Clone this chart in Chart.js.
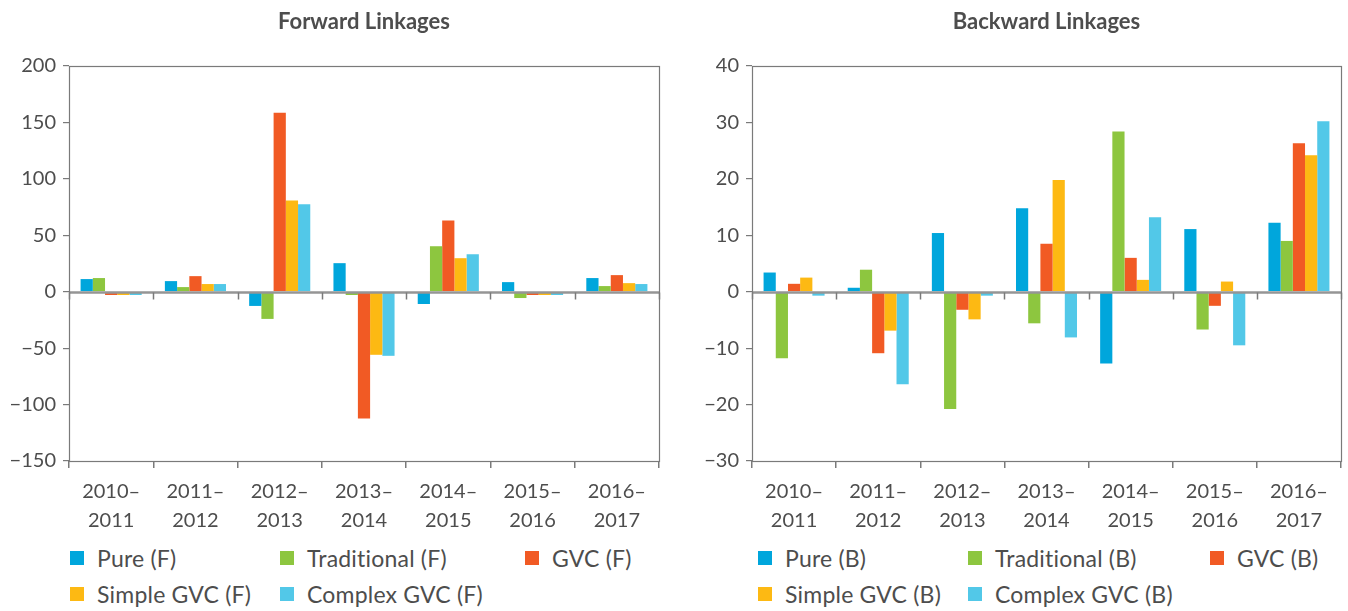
<!DOCTYPE html>
<html>
<head>
<meta charset="utf-8">
<script src="https://cdn.jsdelivr.net/npm/chart.js@4/dist/chart.umd.min.js"></script>
<style>
  html, body { margin: 0; padding: 0; background: #fff; }
  body { width: 1348px; height: 611px; position: relative; overflow: hidden; font-family: Lato, "Open Sans", sans-serif; }
  .panel { position: absolute; top: 0; width: 674px; height: 540px; }
  .legend-item { position: absolute; height: 28px; display: flex; align-items: center; color: #4d4d4d; font-size: 23px; letter-spacing: 0.2px; white-space: nowrap; }
  .legend-item span.box { display: inline-block; width: 14px; height: 14px; margin-right: 13px; }
</style>
</head>
<body>
<div class="panel" style="left:0"><canvas id="fwd"></canvas></div>
<div class="panel" style="left:674px"><canvas id="bwd"></canvas></div>
<div id="legends"></div>
<script>
// Periods on the horizontal axis
const periods = [
  ["2010–", "2011"], ["2011–", "2012"], ["2012–", "2013"], ["2013–", "2014"],
  ["2014–", "2015"], ["2015–", "2016"], ["2016–", "2017"]
];

// Forward linkages
const pureF        = [11.2, 9.4, -12.6, 25.3, -10.9, 8.5, 12.1];
const traditionalF = [12.1, 4.1, -24.1, -2.9, 40.3, -5.6, 5.0];
const gvcF         = [-2.9, 13.8, 158.5, -112.4, 63.2, -2.9, 14.7];
const simpleGvcF   = [-2.9, 6.8, 80.9, -55.9, 29.7, -2.9, 7.6];
const complexGvcF  = [-2.9, 6.8, 77.4, -56.8, 33.2, -2.9, 6.8];

// Backward linkages
const pureB        = [3.4, 0.7, 10.4, 14.8, -12.7, 11.1, 12.2];
const traditionalB = [-11.8, 3.9, -20.8, -5.6, 28.4, -6.7, 9.0];
const gvcB         = [1.4, -10.9, -3.2, 8.5, 6.0, -2.5, 26.3];
const simpleGvcB   = [2.5, -6.9, -4.9, 19.8, 2.1, 1.8, 24.2];
const complexGvcB  = [-0.7, -16.4, -0.7, -8.1, 13.2, -9.5, 30.2];

// Axis ranges and tick steps
const fwdTicks = { min: -150, max: 200, step: 50 };
const bwdTicks = { min: -30, max: 40, step: 10 };

const seriesNames = ["Pure", "Traditional", "GVC", "Simple GVC", "Complex GVC"];
const seriesColors = ["#00a6dc", "#8dc63f", "#f15a24", "#fdb913", "#52c8e8"];

const textColor = "#4d4d4d";
const lineColor = "#7a7a7a";
const fontFamily = "Lato, 'Open Sans', sans-serif";

// Frame around the plot area, plus the zero line with its category ticks
const framePlugin = {
  id: "frame",
  afterDatasetsDraw(chart) {
    const { ctx, chartArea: a, scales } = chart;
    const y0 = Math.round(scales.y.getPixelForValue(0)) + 0.5;
    ctx.save();
    ctx.strokeStyle = "#959595";
    ctx.lineWidth = 2.5;
    ctx.beginPath();
    ctx.moveTo(a.left, y0);
    ctx.lineTo(a.right, y0);
    ctx.stroke();
    ctx.strokeStyle = lineColor;
    ctx.lineWidth = 1.5;
    const n = chart.data.labels.length;
    for (let i = 0; i <= n; i++) {
      const x = Math.round(a.left + (a.right - a.left) * i / n) + 0.5;
      ctx.beginPath();
      ctx.moveTo(x, y0);
      ctx.lineTo(x, y0 + 7);
      ctx.stroke();
    }
    ctx.lineWidth = 1.2;
    ctx.strokeStyle = lineColor;
    ctx.strokeRect(Math.round(a.left) + 0.5, Math.round(a.top) + 0.5,
                   Math.round(a.right - a.left), Math.round(a.bottom - a.top));
    ctx.restore();
  }
};

function makeChart(id, title, suffix, values, ticks, yAxisWidth, padRight) {
  const datasets = values.map((v, i) => ({
    label: seriesNames[i] + " (" + suffix + ")",
    data: v,
    backgroundColor: seriesColors[i],
    borderWidth: 0,
    barPercentage: 1.0,
    categoryPercentage: 0.725
  }));
  return new Chart(document.getElementById(id), {
    type: "bar",
    data: { labels: periods, datasets },
    plugins: [framePlugin],
    options: {
      responsive: true,
      maintainAspectRatio: false,
      animation: false,
      layout: { padding: { left: 0, right: padRight, top: 0, bottom: 0 } },
      plugins: {
        legend: { display: false },
        tooltip: { enabled: false },
        title: {
          display: true,
          fullSize: false,
          text: title,
          color: textColor,
          font: { family: fontFamily, size: 22, weight: "bold", lineHeight: 1.2 },
          padding: { top: 9, bottom: 30.6 }
        }
      },
      scales: {
        x: {
          grid: { display: true, offset: true, drawOnChartArea: false, drawTicks: true, tickLength: 7, color: lineColor, lineWidth: 1.5 },
          border: { display: false },
          ticks: { color: textColor, font: { family: fontFamily, size: 20, lineHeight: 1.45 }, padding: 9, maxRotation: 0, autoSkip: false },
          afterFit(scale) { scale.height = 79; }
        },
        y: {
          min: ticks.min,
          max: ticks.max,
          grid: { display: true, drawOnChartArea: false, drawTicks: true, tickLength: 6, color: lineColor, lineWidth: 1.2 },
          border: { display: false },
          ticks: {
            stepSize: ticks.step,
            color: textColor,
            font: { family: fontFamily, size: 20 },
            padding: 7,
            callback: v => (v < 0 ? "\u2212" + Math.abs(v) : String(v))
          },
          afterFit(scale) { scale.width = yAxisWidth; }
        }
      }
    }
  });
}

makeChart("fwd", "Forward Linkages", "F",
  [pureF, traditionalF, gvcF, simpleGvcF, complexGvcF], fwdTicks, 69, 15);
makeChart("bwd", "Backward Linkages", "B",
  [pureB, traditionalB, gvcB, simpleGvcB, complexGvcB], bwdTicks, 78, 7);

// Legends below each panel, laid out in three columns
const legendSlots = [
  { col: 0, row: 0 }, { col: 1, row: 0 }, { col: 2, row: 0 },
  { col: 0, row: 1 }, { col: 1, row: 1 }
];
const legendPanels = [
  { suffix: "F", cols: [70, 280, 525] },
  { suffix: "B", cols: [758, 968, 1210] }
];
const rowTops = [544, 580];
const legendHost = document.getElementById("legends");
legendPanels.forEach(p => {
  seriesNames.forEach((name, i) => {
    const slot = legendSlots[i];
    const item = document.createElement("div");
    item.className = "legend-item";
    item.style.left = p.cols[slot.col] + "px";
    item.style.top = rowTops[slot.row] + "px";
    const box = document.createElement("span");
    box.className = "box";
    box.style.background = seriesColors[i];
    item.appendChild(box);
    item.appendChild(document.createTextNode(name + " (" + p.suffix + ")"));
    legendHost.appendChild(item);
  });
});
</script>
</body>
</html>
